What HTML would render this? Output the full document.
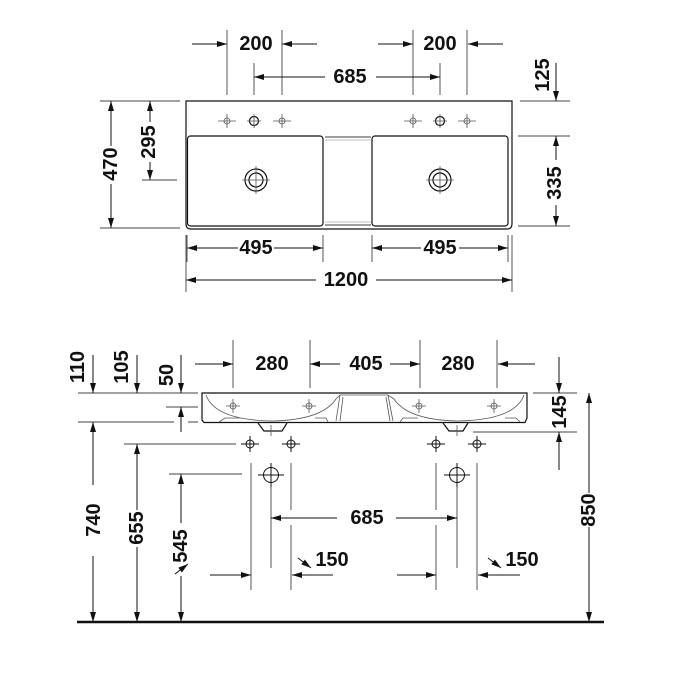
<!DOCTYPE html>
<html><head><meta charset="utf-8"><style>
html,body{margin:0;padding:0;background:#fff}
svg{display:block}
text{font-family:"Liberation Sans Narrow","Liberation Sans",sans-serif;font-weight:bold;font-size:20px;fill:#111;text-anchor:middle;dominant-baseline:central}
</style></head><body>
<svg width="700" height="700" viewBox="0 0 700 700" xmlns="http://www.w3.org/2000/svg">
<defs>
<marker id="a" viewBox="0 0 10 6" refX="10" refY="3" markerWidth="10" markerHeight="6" orient="auto" markerUnits="userSpaceOnUse"><path d="M0,0L10,3L0,6z" fill="#111"/></marker>
</defs>
<g stroke="#444" stroke-width="0.9" fill="none">
<!-- top view extension lines -->
<path d="M227,30V95M282,30V95M254,63V95M440,63V95M413,30V95M467,30V95"/>
<path d="M520,101H570M518,136H570M518,226H570"/>
<path d="M100,101H180M100,228H180M142,180H177"/>
<path d="M187,235V262M323,235V262M372,235V262M508,235V262M186,235V292M512,235V292"/>
<!-- bottom view extension lines -->
<path d="M233,340V388M310,340V388M420,340V388M497,340V388"/>
<path d="M533,393H577M473,432H577"/>
<path d="M78,393H198M166,407H198M78,422H174M188,422H198"/>
<path d="M124,444H236M169,474H242"/>
<path d="M251,463V590M291,463V510M291,525V590M436,463V510M436,525V590M477,463V590"/>
<path d="M271,480V568M457,480V568"/>
</g>
<g stroke="#111" stroke-width="1" fill="none" marker-end="url(#a)">
<!-- top dims -->
<path d="M192,44H227"/><path d="M317,44H282"/>
<path d="M378,44H413"/><path d="M503,44H468"/>
<path d="M325,77H254"/><path d="M376,77H440"/>
<path d="M556,63V101"/>
<path d="M556,160V136"/><path d="M556,205V226"/>
<path d="M111,146V101"/><path d="M111,184V228"/>
<path d="M150,122V101"/><path d="M150,162V180"/>
<path d="M238,248H187"/><path d="M274,248H323"/>
<path d="M421,248H372"/><path d="M459,248H508"/>
<path d="M316,280H186"/><path d="M376,280H512"/>
<!-- bottom dims -->
<path d="M195,364H233"/><path d="M340,364H310"/><path d="M390,364H420"/><path d="M535,364H498"/>
<path d="M93,355V393"/><path d="M137,355V393"/><path d="M181,355V393"/>
<path d="M181,432V407"/>
<path d="M93,485V422"/><path d="M93,556V622"/>
<path d="M137,510V444"/><path d="M137,547V622"/>
<path d="M181,523V474"/><path d="M181,576V622"/>
<path d="M559,357V393"/><path d="M559,470V432"/>
<path d="M589,493V393"/><path d="M589,527V622"/>
<path d="M337,518H271"/><path d="M396,518H457"/>
<path d="M210,575H251"/><path d="M333,575H292"/>
<path d="M397,575H436"/><path d="M520,575H478"/>
<path d="M298,558L311,568"/><path d="M488,558L501,568"/>
<path d="M175,574L188,564"/>
</g>
<!-- top view shape -->
<g stroke="#111" stroke-width="1.2" fill="none">
<path d="M186,101H512V224Q512,229 507,229H191Q186,229 186,224Z"/>
<rect x="187.5" y="136" width="135.5" height="90" rx="3"/>
<rect x="372" y="136" width="136" height="90" rx="3"/>
<path d="M325,137H371M325,225H371" stroke="#666"/>
<path d="M325,140H371M325,222H371" stroke="#aaa" stroke-width="0.8"/>
<circle cx="254" cy="121" r="4.5"/><circle cx="440" cy="121" r="4.5"/>
<circle cx="256" cy="180" r="11"/><circle cx="256" cy="180" r="7"/>
<circle cx="440" cy="180" r="11"/><circle cx="440" cy="180" r="7"/>
</g>
<g stroke="#555" stroke-width="0.8" fill="none">
<circle cx="227" cy="121" r="3"/><circle cx="282" cy="121" r="3"/>
<circle cx="413" cy="121" r="3"/><circle cx="467" cy="121" r="3"/>
<path d="M218,121H236M227,114V128M273,121H291M282,114V128M404,121H422M413,114V128M458,121H476M467,114V128"/>
<path d="M247,121H261M254,114V128M433,121H447M440,114V128"/>
<path d="M242,180H270M256,166V194M426,180H454M440,166V194"/>
</g>
<!-- bottom view basin -->
<g stroke="#111" stroke-width="1.2" fill="none">
<path d="M202,393H527V418L525,422.5H204L202,420Z"/>
<path d="M258,423L264,431H282L287,423M443,423L449,431H463L468,423"/>
</g>
<g stroke="#555" stroke-width="0.8" fill="none">
<path d="M206,395Q215,420 272,421Q322,420 336,399"/>
<path d="M524,395Q515,420 458,421Q408,420 394,399"/>
<path d="M336,399L340,395H388L394,399M340,395L336,421M388,395L393,421M343,397L340,421M386,397L390,421"/>
<path d="M219,422L225,418H240M315,418H326L328,422M400,422L403,418H418M505,418H516L520,422"/>
<path d="M226,406H240M233,399V413M302,406H316M309,399V413M412,406H426M419,399V413M487,406H501M494,399V413"/>
<circle cx="233" cy="406" r="3"/><circle cx="309" cy="406" r="3"/><circle cx="419" cy="406" r="3"/><circle cx="494" cy="406" r="3"/>
<path d="M271,425V436M457,425V436"/>
</g>
<g stroke="#111" stroke-width="1" fill="none">
<circle cx="250" cy="444" r="4"/><circle cx="291" cy="444" r="4"/><circle cx="436" cy="444" r="4"/><circle cx="477" cy="444" r="4"/>
<path d="M241,444H259M250,436V452M282,444H300M291,436V452M427,444H445M436,436V452M468,444H486M477,436V452"/>
<circle cx="271" cy="475" r="7.5"/><circle cx="457" cy="475" r="7.5"/>
<path d="M258,475H284M271,463V487M444,475H470M457,463V487"/>
</g>
<path d="M77,622H604" stroke="#111" stroke-width="2.5"/>
<!-- text -->
<text x="256" y="44">200</text>
<text x="440" y="44">200</text>
<text x="350" y="77">685</text>
<text transform="translate(543,75) rotate(-90)">125</text>
<text transform="translate(555,183) rotate(-90)">335</text>
<text transform="translate(111,164) rotate(-90)">470</text>
<text transform="translate(149,142) rotate(-90)">295</text>
<text x="256" y="248">495</text>
<text x="440" y="248">495</text>
<text x="346" y="280">1200</text>
<text x="272" y="364">280</text>
<text x="366" y="364">405</text>
<text x="458" y="364">280</text>
<text transform="translate(78,367) rotate(-90)">110</text>
<text transform="translate(122,367) rotate(-90)">105</text>
<text transform="translate(167,375) rotate(-90)">50</text>
<text transform="translate(560,412) rotate(-90)">145</text>
<text transform="translate(94,520) rotate(-90)">740</text>
<text transform="translate(137,528) rotate(-90)">655</text>
<text transform="translate(181,546) rotate(-90)">545</text>
<text transform="translate(589,510) rotate(-90)">850</text>
<text x="367" y="518">685</text>
<text x="332" y="560">150</text>
<text x="522" y="560">150</text>
</svg>
</body></html>
